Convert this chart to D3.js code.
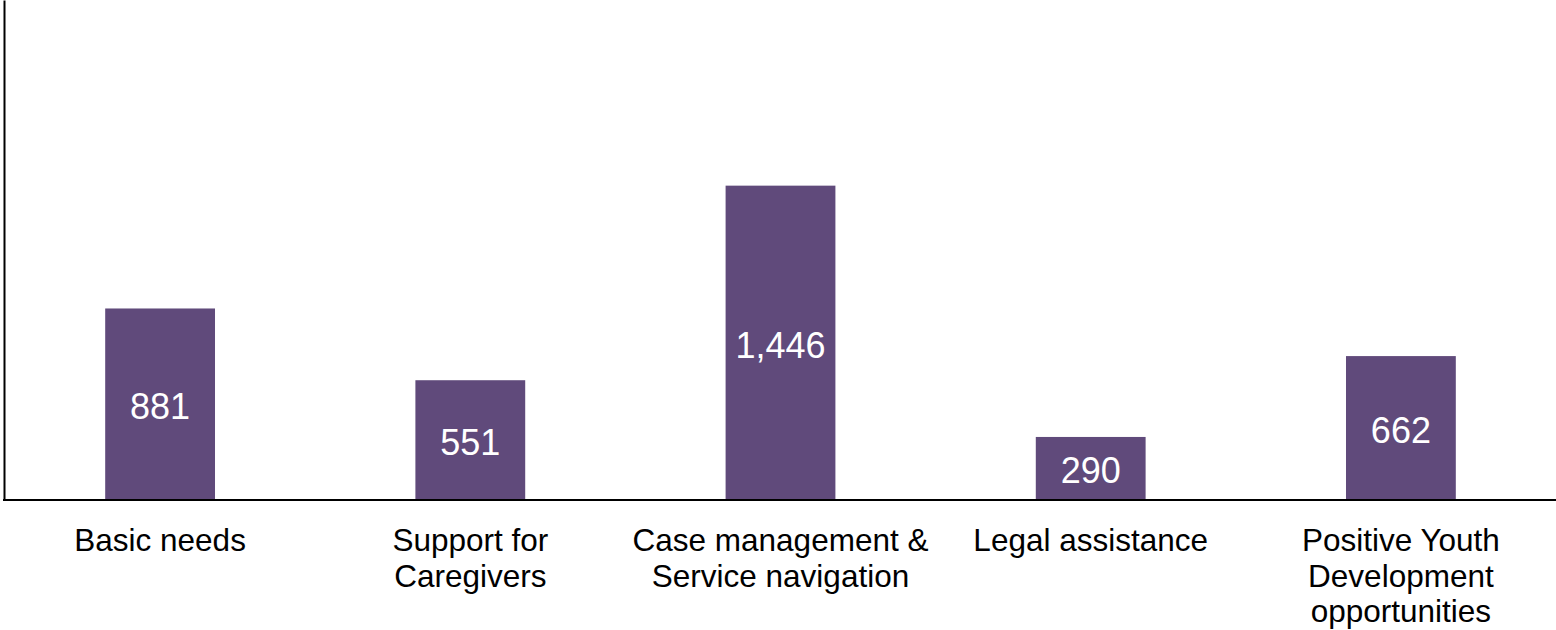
<!DOCTYPE html>
<html>
<head>
<meta charset="utf-8">
<script src="https://cdn.jsdelivr.net/npm/d3@7"></script>
<style>
html,body{margin:0;padding:0;background:#fff;}
svg{display:block;}
</style>
</head>
<body>
<svg id="chart" width="1556" height="630"></svg>
<script>
const categories = ["Basic needs","Support for Caregivers","Case management & Service navigation","Legal assistance","Positive Youth Development opportunities"];
const categoryLines = [["Basic needs"],["Support for","Caregivers"],["Case management &","Service navigation"],["Legal assistance"],["Positive Youth","Development","opportunities"]];
const values = [881,551,1446,290,662];
const valueLabels = ["881","551","1,446","290","662"];

const svg = d3.select("#chart");
const W = 1556, H = 630;
const left = 4, right = 1556, baseY = 500, topY = 0;

const x = d3.scaleBand().domain(categories).range([5, right]).paddingInner(0.646).paddingOuter(0.323);
const y = d3.scaleLinear().domain([0, 2300]).range([baseY, topY]);

svg.selectAll("rect.bar").data(values).join("rect")
  .attr("class","bar")
  .attr("x",(d,i)=>x(categories[i]))
  .attr("y",d=>y(d))
  .attr("width",x.bandwidth())
  .attr("height",d=>baseY-y(d))
  .attr("fill","#604A7B");

svg.selectAll("text.val").data(values).join("text")
  .attr("class","val")
  .attr("x",(d,i)=>x(categories[i])+x.bandwidth()/2)
  .attr("y",d=>(y(d)+baseY)/2 + 2)
  .attr("dy","0.36em")
  .attr("text-anchor","middle")
  .attr("font-family","Liberation Sans, Arial, sans-serif")
  .attr("font-size",36)
  .attr("fill","#fff")
  .text((d,i)=>valueLabels[i]);

// axes
const yAxis = d3.axisLeft(y).ticks(0).tickSizeOuter(0);
svg.append("g").attr("transform",`translate(${left},0)`).call(yAxis)
  .call(g=>g.select(".domain").attr("stroke","#000").attr("stroke-width",2));

const xAxis = d3.axisBottom(x).tickSize(0).tickSizeOuter(0).tickFormat("");
const gx = svg.append("g").attr("transform",`translate(0,${baseY})`).call(xAxis);
gx.select(".domain").attr("stroke","#000").attr("stroke-width",2).attr("d",`M${left-1},0H${right}`);

const labels = svg.append("g");
categories.forEach((c,i)=>{
  const t = labels.append("text")
    .attr("x", x(c)+x.bandwidth()/2)
    .attr("y", 551)
    .attr("text-anchor","middle")
    .attr("font-family","Liberation Sans, Arial, sans-serif")
    .attr("font-size",31.5)
    .attr("fill","#000");
  categoryLines[i].forEach((ln,j)=>{
    t.append("tspan").attr("x", x(c)+x.bandwidth()/2).attr("y", 551 + j*35.5).text(ln);
  });
});
</script>
</body>
</html>
